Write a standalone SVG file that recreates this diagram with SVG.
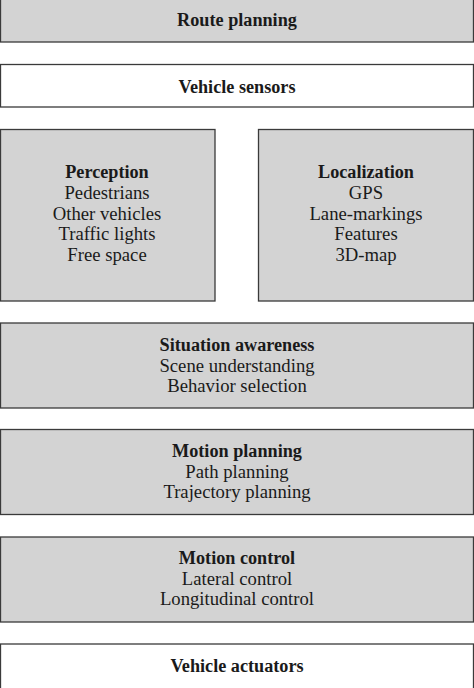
<svg xmlns="http://www.w3.org/2000/svg" width="474" height="688" viewBox="0 0 474 688">
<style>
.box{stroke:#3a3a3a;stroke-width:1.3}
.g{fill:#d3d3d3}
.w{fill:#ffffff}
text{font-family:"Liberation Serif","Times New Roman",serif;font-size:18.7px;fill:#1a1a1a;text-anchor:middle}
.t{font-weight:bold;font-size:18.2px}
</style>
<rect width="474" height="688" fill="#ffffff"/>
<g id="connectors"/>
<g id="route-planning">
<rect class="box g" x="0.5" y="-2" width="473" height="44"/>
<text class="t" x="237" y="26">Route planning</text>
</g>
<g id="vehicle-sensors">
<rect class="box w" x="0.5" y="64.5" width="473" height="42.5"/>
<text class="t" x="237" y="93">Vehicle sensors</text>
</g>
<g id="perception">
<rect class="box g" x="0.5" y="129.5" width="214.5" height="171.5"/>
<text class="t" x="107" y="178">Perception</text>
<text x="107" y="199">Pedestrians</text>
<text x="107" y="219.5">Other vehicles</text>
<text x="107" y="240">Traffic lights</text>
<text x="107" y="260.5">Free space</text>
</g>
<g id="localization">
<rect class="box g" x="258.5" y="129.5" width="215" height="171.5"/>
<text class="t" x="366" y="178">Localization</text>
<text x="366" y="199">GPS</text>
<text x="366" y="219.5">Lane-markings</text>
<text x="366" y="240">Features</text>
<text x="366" y="260.5">3D-map</text>
</g>
<g id="situation-awareness">
<rect class="box g" x="0.5" y="323" width="473" height="85"/>
<text class="t" x="237" y="351">Situation awareness</text>
<text x="237" y="371.5">Scene understanding</text>
<text x="237" y="392">Behavior selection</text>
</g>
<g id="motion-planning">
<rect class="box g" x="0.5" y="429.5" width="473" height="85"/>
<text class="t" x="237" y="457">Motion planning</text>
<text x="237" y="477.5">Path planning</text>
<text x="237" y="498">Trajectory planning</text>
</g>
<g id="motion-control">
<rect class="box g" x="0.5" y="537" width="473" height="85"/>
<text class="t" x="237" y="564">Motion control</text>
<text x="237" y="584.5">Lateral control</text>
<text x="237" y="605">Longitudinal control</text>
</g>
<g id="vehicle-actuators">
<rect class="box w" x="0.5" y="644" width="473" height="46"/>
<text class="t" x="237" y="672">Vehicle actuators</text>
</g>
</svg>
